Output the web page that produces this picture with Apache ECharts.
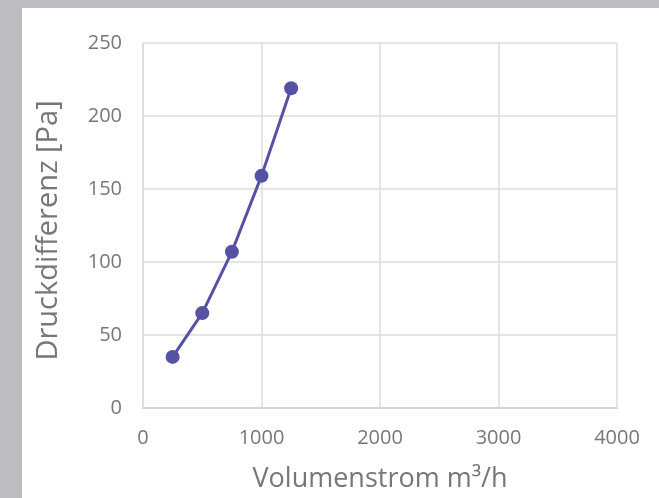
<!DOCTYPE html>
<html><head><meta charset="utf-8">
<script src="https://cdn.jsdelivr.net/npm/echarts@6/dist/echarts.min.js"></script>
<style>html,body{margin:0;padding:0;}#c{width:659px;height:498px;}</style>
</head><body><div id="c"></div>
<script>
const flowValues = [250, 500, 750, 1000, 1250];
const pressureValues = [35, 65, 107, 159, 219];
const xTicks = [0, 1000, 2000, 3000, 4000];
const yTicks = [0, 50, 100, 150, 200, 250];

const chart = echarts.init(document.getElementById('c'), null, {renderer: 'canvas'});
const txt = '#777777';
const font = 'Open Sans';
chart.setOption({
  backgroundColor: '#bdbdc1',
  animation: false,
  graphic: [{type: 'rect', shape: {x: 22, y: 8, width: 640, height: 492}, style: {fill: '#ffffff'}, z: -10, silent: true}],
  grid: {left: 143, right: 42, top: 43, bottom: 89, containLabel: false, show: false},
  xAxis: {
    type: 'value', min: xTicks[0], max: xTicks[xTicks.length - 1], interval: 1000,
    name: 'Volumenstrom m³/h', nameLocation: 'middle', nameGap: 58,
    nameTextStyle: {color: txt, fontSize: 27, fontFamily: font},
    axisLine: {show: true, lineStyle: {color: '#d4d4d4', width: 2}},
    axisTick: {show: false},
    axisLabel: {color: txt, fontSize: 20, fontFamily: font, margin: 20, formatter: v => String(v)},
    splitLine: {show: true, lineStyle: {color: '#dcdcdc', width: 1.5}}
  },
  yAxis: {
    type: 'value', min: yTicks[0], max: yTicks[yTicks.length - 1], interval: 50,
    name: 'Druckdifferenz [Pa]', nameLocation: 'middle', nameGap: 80,
    nameTextStyle: {color: txt, fontSize: 29, fontFamily: font, padding: [0, 10, 0, 0]},
    axisLine: {show: true, lineStyle: {color: '#dcdcdc', width: 1.5}},
    axisTick: {show: false},
    axisLabel: {color: txt, fontSize: 20, fontFamily: font, margin: 21},
    splitLine: {show: true, lineStyle: {color: '#dcdcdc', width: 1.5}}
  },
  series: [{
    type: 'line',
    data: flowValues.map((x, i) => [x, pressureValues[i]]),
    symbol: 'circle', symbolSize: 14,
    lineStyle: {color: '#5652a3', width: 3},
    itemStyle: {color: '#5652a3'}
  }]
});
</script></body></html>
